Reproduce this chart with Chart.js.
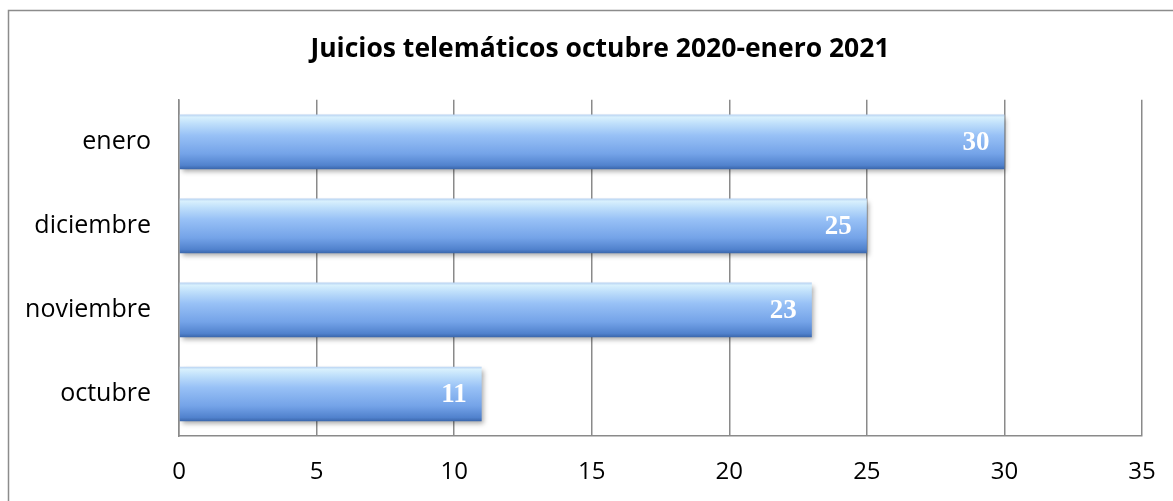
<!DOCTYPE html>
<html>
<head>
<meta charset="utf-8">
<script src="https://cdn.jsdelivr.net/npm/chart.js@4"></script>
<style>
  html, body { margin: 0; padding: 0; background: #fff; }
  #wrap { position: relative; width: 1173px; height: 501px; }
</style>
</head>
<body>
<div id="wrap"><canvas id="chart" width="1173" height="501"></canvas></div>
<script>
const title    = 'Juicios telemáticos octubre 2020-enero 2021';
const months   = ['enero', 'diciembre', 'noviembre', 'octubre'];
const juicios  = [30, 25, 23, 11];
const xTicks   = [0, 5, 10, 15, 20, 25, 30, 35];

const BAR_PCT = 0.65;
const PAD_R = 31;
const TITLE_SHIFT = 29; // title sits a bit right of the canvas centre

// gradient per bar, computed from the y scale
function barFill(ctx){
  const chart = ctx.chart;
  const ys = chart.scales.y;
  if (!chart.chartArea || !ys) return '#7aa7e8';
  const c = ys.getPixelForValue(ctx.dataIndex);
  const half = (ys.height / months.length) * BAR_PCT / 2;
  const g = chart.ctx.createLinearGradient(0, c - half, 0, c + half);
  g.addColorStop(0,    '#b7d1f1');
  g.addColorStop(0.05, '#d8f0fd');
  g.addColorStop(0.16, '#c0e0fb');
  g.addColorStop(0.38, '#98c1f6');
  g.addColorStop(0.72, '#74a3e8');
  g.addColorStop(0.93, '#5182cd');
  g.addColorStop(1,    '#3a66ab');
  return g;
}

const barDecor = {
  id: 'barDecor',
  afterLayout(chart){
    const t = chart.titleBlock;
    if (t) { t.left += TITLE_SHIFT; t.right += TITLE_SHIFT; }
  },
  beforeDraw(chart){
    const ctx = chart.ctx;
    ctx.save();
    ctx.strokeStyle = '#8c8c8c';
    ctx.lineWidth = 1.5;
    ctx.strokeRect(8.5, 10.5, 1300, 700);
    ctx.restore();
  },
  beforeDatasetsDraw(chart){
    const ctx = chart.ctx;
    ctx.save();
    ctx.shadowColor = 'rgba(0,0,0,0.35)';
    ctx.shadowBlur = 5;
    ctx.shadowOffsetX = 2;
    ctx.shadowOffsetY = 3;
  },
  afterDatasetsDraw(chart){
    const ctx = chart.ctx;
    ctx.restore();
    const meta = chart.getDatasetMeta(0);
    ctx.save();
    ctx.fillStyle = '#ffffff';
    ctx.font = 'bold 27px "Liberation Serif", serif';
    ctx.textAlign = 'right';
    ctx.textBaseline = 'middle';
    meta.data.forEach((el, i) => {
      ctx.fillText(String(juicios[i]), el.x - 15, el.y + 1);
    });
    ctx.restore();
  }
};

new Chart(document.getElementById('chart'), {
  type: 'bar',
  data: {
    labels: months,
    datasets: [{
      data: juicios,
      backgroundColor: barFill,
      borderWidth: 0,
      barPercentage: BAR_PCT,
      categoryPercentage: 1
    }]
  },
  options: {
    indexAxis: 'y',
    responsive: false,
    animation: false,
    layout: { padding: { left: 0, right: PAD_R, top: 0, bottom: 0 } },
    plugins: {
      legend: { display: false },
      tooltip: { enabled: false },
      title: {
        display: true,
        text: title,
        color: '#000',
        font: { family: '"Open Sans", sans-serif', size: 26.5, weight: 'bold' },
        padding: { top: 34, bottom: 34 }
      }
    },
    scales: {
      x: {
        min: xTicks[0],
        max: xTicks[xTicks.length - 1],
        afterBuildTicks: s => { s.ticks = xTicks.map(v => ({ value: v })); },
        afterFit: s => { s.height = 65; s.paddingLeft = 0; s.paddingRight = 0; },
        grid: { color: '#8a8a8a', lineWidth: 1.5, drawTicks: false },
        border: { color: '#8a8a8a', width: 1.5 },
        ticks: {
          color: '#000',
          padding: 22,
          font: { family: '"Open Sans", sans-serif', size: 24 }
        }
      },
      y: {
        afterFit: s => { s.width = 179; },
        grid: { display: false, drawTicks: false },
        border: { color: '#8a8a8a', width: 1.5 },
        ticks: {
          color: '#000',
          padding: 28,
          font: { family: '"Open Sans", sans-serif', size: 25 }
        }
      }
    }
  },
  plugins: [barDecor]
});
</script>
</body>
</html>
